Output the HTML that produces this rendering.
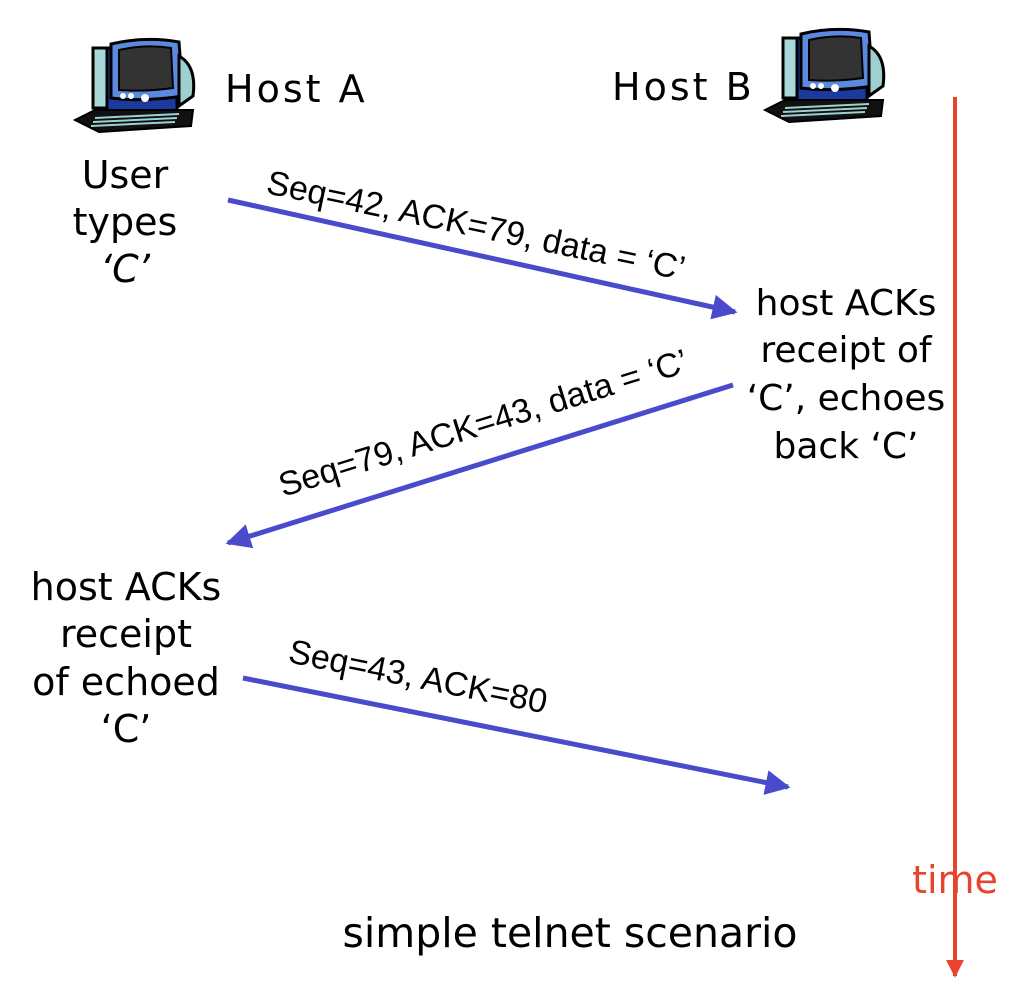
<!DOCTYPE html>
<html><head><meta charset="utf-8"><style>
html,body{margin:0;padding:0;background:#fff;}
svg{display:block}
.c{font-family:"DejaVu Sans","Liberation Sans",sans-serif;font-size:38px;fill:#000}
.l{font-family:"Liberation Sans",Arial,sans-serif;font-size:34px;fill:#000}
</style></head><body>
<svg width="1024" height="1006" viewBox="0 0 1024 1006" xmlns="http://www.w3.org/2000/svg">
<defs>
<g id="pc">
  <rect x="18" y="12" width="16" height="60" fill="#a8d8d8" stroke="#000" stroke-width="3"/>
  <rect x="32" y="12" width="70" height="68" fill="#1a3aa0" stroke="#000" stroke-width="3"/>
  <path d="M36 8 Q70 0 104 6 L108 60 Q70 66 36 62 Z" fill="#5a8ae0" stroke="#000" stroke-width="3"/>
  <path d="M44 14 Q70 8 96 12 L98 52 Q70 56 44 54 Z" fill="#333" stroke="#000" stroke-width="2"/>
  <path d="M104 20 Q122 30 118 60 L104 70 Z" fill="#9fd0d0" stroke="#000" stroke-width="3"/>
  <circle cx="48" cy="60" r="3" fill="#fff"/><circle cx="56" cy="60" r="3" fill="#fff"/><circle cx="70" cy="62" r="4" fill="#fff"/>
  <path d="M0 84 L20 74 L118 74 L116 90 L24 96 Z" fill="#111" stroke="#000" stroke-width="2"/>
  <path d="M20 82 L104 78 M18 86 L102 82 M16 90 L100 86" stroke="#9fd0d0" stroke-width="2"/>
</g>
<marker id="ab" viewBox="0 0 10 10" refX="9" refY="5" markerWidth="5" markerHeight="5" orient="auto"><path d="M0 0 L10 5 L0 10 Z" fill="#4a4acc"/></marker>
<marker id="ar" viewBox="0 0 10 10" refX="9" refY="5" markerWidth="4.5" markerHeight="4.5" orient="auto"><path d="M0 0 L10 5 L0 10 Z" fill="#e8432c"/></marker>
</defs>
<use href="#pc" x="75" y="36"/>
<use href="#pc" x="765" y="26"/>
<text class="c" x="225" y="102" letter-spacing="3">Host A</text>
<text class="c" x="612" y="100" letter-spacing="3">Host B</text>
<g class="c" text-anchor="middle">
<text x="125" y="188">User</text><text x="125" y="235">types</text><text x="125" y="282" font-style="italic">‘C’</text>
<g font-size="36"><text x="846" y="315">host ACKs</text><text x="846" y="362">receipt of</text><text x="846" y="410">‘C’, echoes</text><text x="846" y="458">back ‘C’</text></g>
<text x="126" y="600">host ACKs</text><text x="126" y="647">receipt</text><text x="126" y="695">of echoed</text><text x="126" y="742">‘C’</text>
<text x="570" y="947" font-size="41">simple telnet scenario</text>
<text x="955" y="893" fill="#e8432c">time</text>
</g>
<line x1="955" y1="97" x2="955" y2="976" stroke="#e8432c" stroke-width="4" marker-end="url(#ar)"/>
<line x1="228" y1="200" x2="735" y2="312" stroke="#4a4acc" stroke-width="5" marker-end="url(#ab)"/>
<line x1="733" y1="385" x2="228" y2="543" stroke="#4a4acc" stroke-width="5" marker-end="url(#ab)"/>
<line x1="243" y1="678" x2="788" y2="787" stroke="#4a4acc" stroke-width="5" marker-end="url(#ab)"/>
<text class="l" transform="translate(265,193) rotate(11.8)">Seq=42, ACK=79, data = ‘C’</text>
<text class="l" transform="translate(283,497) rotate(-17.2)">Seq=79, ACK=43, data = ‘C’</text>
<text class="l" transform="translate(287,662) rotate(11.3)">Seq=43, ACK=80</text>
</svg>
</body></html>
